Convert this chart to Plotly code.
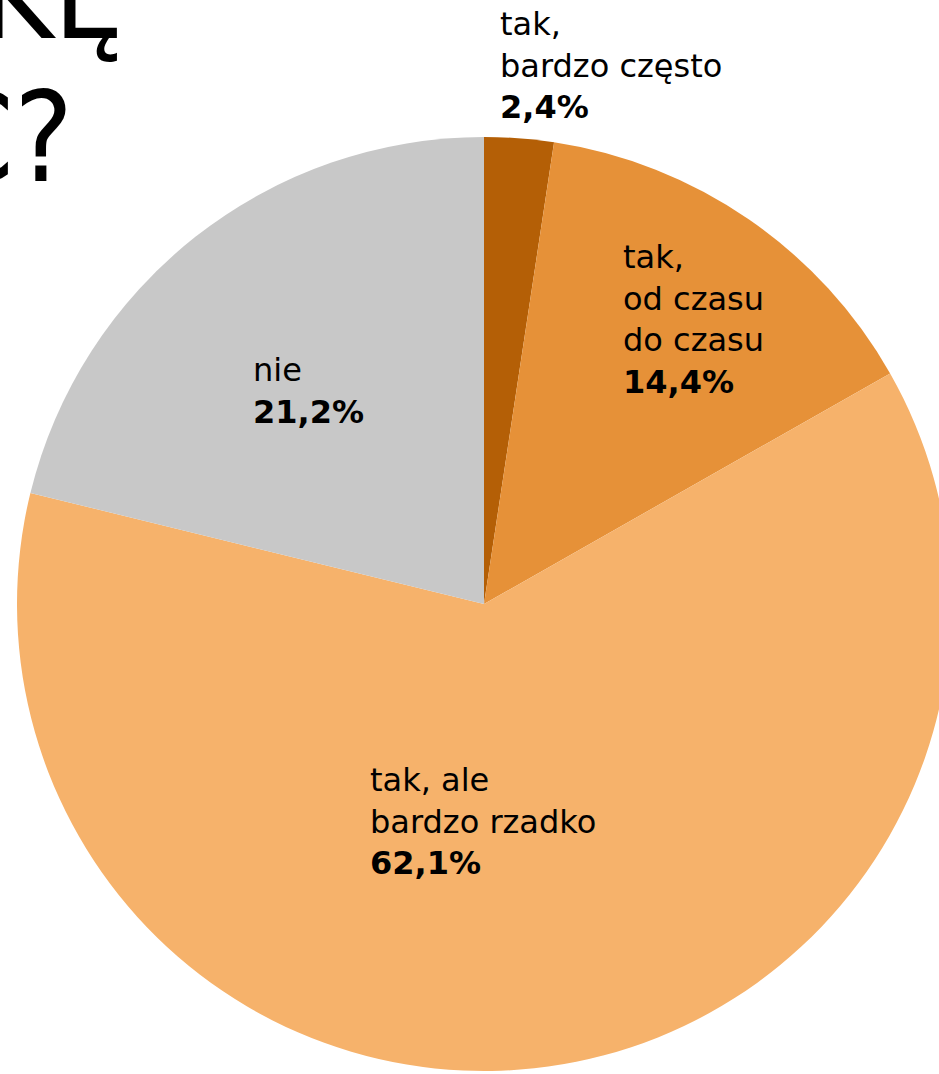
import plotly.graph_objects as go

# ---- data ----
categories = ["tak,<br>bardzo często", "tak,<br>od czasu<br>do czasu", "tak, ale<br>bardzo rzadko", "nie"]
values = [2.4, 14.4, 62.1, 21.2]
colors = ["#b45f06", "#e69138", "#f6b26b", "#c8c8c8"]
title_lines = ["ZKĘ", "Ć?"]

# ---- layout constants (pixels) ----
W, H = 960, 1074
cx, cy, r = 484, 604, 467

def px_x(x):
    return x / W

def px_y(y):
    return 1 - y / H

fig = go.Figure()
fig.add_trace(go.Pie(
    labels=categories,
    values=values,
    sort=False,
    direction="clockwise",
    rotation=0,
    marker=dict(colors=colors, line=dict(width=0)),
    textinfo="none",
    hoverinfo="none",
    showlegend=False,
    domain=dict(x=[px_x(cx - r), px_x(cx + r)], y=[px_y(cy + r), px_y(cy - r)]),
))

label_font = dict(family="DejaVu Sans", size=32, color="#000000")
# label anchor positions (left x, vertical middle y) in pixels
label_pos = [(499, 66), (622, 319), (369, 821), (252, 391)]
for cat, val, (lx, ly) in zip(categories, values, label_pos):
    pct = f"{val:.1f}".replace(".", ",") + "%"
    fig.add_annotation(
        x=px_x(lx), y=px_y(ly), xref="paper", yref="paper",
        xanchor="left", yanchor="middle", align="left",
        text=f"{cat}<br><b>{pct}</b>", showarrow=False,
        font=label_font, borderpad=0,
    )

title_font = dict(family="DejaVu Sans Condensed, Liberation Sans Narrow, sans-serif", size=124, color="#000000")
title_pos = [(125, 68), (74, 211)]
for t, (tx, ty) in zip(title_lines, title_pos):
    fig.add_annotation(
        x=px_x(tx), y=px_y(ty), xref="paper", yref="paper",
        xanchor="right", yanchor="bottom", text=t, showarrow=False,
        font=title_font, borderpad=0,
    )

fig.update_layout(
    width=W, height=H,
    margin=dict(l=0, r=0, t=0, b=0),
    paper_bgcolor="white", plot_bgcolor="white",
)

fig.write_html(
    "out.html",
    config={"displayModeBar": False},
    post_script="document.body.style.margin='0';document.body.style.overflow='hidden';",
)
